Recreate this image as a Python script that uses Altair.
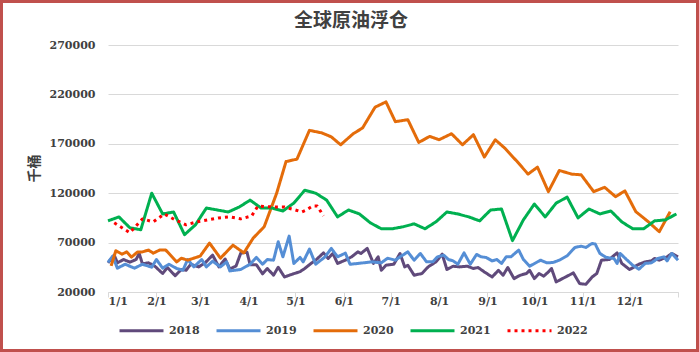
import altair as alt
import pandas as pd

chart_title = "全球原油浮仓"
series_names = ["2018", "2019", "2020", "2021", "2022"]
series_colors = ["#604A7B", "#558ED5", "#E46C0A", "#00B050", "#FF0000"]

days_2018 = [0, 4, 6, 10, 14, 18, 20, 22, 26, 30, 35, 38, 43, 47, 50, 53, 58, 62, 67, 71,
             75, 78, 82, 85, 89, 91, 95, 99, 102, 106, 109, 113, 117, 123, 126, 130, 133, 138, 141, 144,
             147, 152, 156, 160, 162, 166, 170, 173, 175, 178, 183, 187, 190, 192, 196, 201, 205, 210, 214, 217,
             221, 225, 230, 234, 237, 241, 246, 250, 253, 256, 260, 264, 268, 270, 273, 276, 279, 282, 284, 287,
             293, 298, 302, 306, 310, 313, 316, 321, 326, 329, 334, 340, 344, 348, 350, 353, 358, 361, 365]
vals_2018 = [49500, 57300, 49500, 52900, 50200, 52900, 59000, 48600, 49500, 46100,
             38700, 44800, 36500, 42800, 42000, 48100, 45400, 49200, 57300, 45400,
             53400, 43300, 46300, 59300, 60300, 47600, 47600, 38400, 43800, 37000,
             45100, 35200, 37500, 40600, 43800, 48900, 52200, 59600, 53900, 59000,
             48900, 52200, 55600, 60600, 59000, 64100, 48900, 55600, 42000, 47100,
             48100, 59000, 45400, 47100, 37000, 38700, 45400, 50500, 58300, 42800,
             46100, 45400, 46100, 43800, 44800, 40300, 35200, 42000, 37000, 44800,
             33600, 37000, 38700, 42000, 33600, 38700, 36000, 40300, 43800, 30200,
             35200, 39300, 28500, 27800, 35200, 38700, 52200, 52900, 59600, 48900,
             42800, 48100, 50500, 51500, 53900, 52200, 55600, 59000, 55600]

days_2019 = [0, 3, 6, 11, 17, 22, 28, 31, 35, 39, 44, 48, 51, 55, 60, 63, 67, 72, 76, 78,
             85, 91, 95, 99, 102, 106, 109, 112, 116, 119, 123, 125, 129, 133, 139, 143, 147, 152, 155, 160,
             169, 175, 179, 184, 187, 192, 196, 200, 204, 208, 211, 215, 218, 221, 224, 228, 232, 236, 239, 242,
             246, 249, 252, 255, 258, 263, 266, 270, 277, 281, 285, 289, 294, 299, 303, 306, 310, 312, 315, 319,
             324, 326, 328, 332, 336, 340, 344, 348, 352, 356, 358, 361, 365]
vals_2019 = [50000, 56300, 44100, 48100, 44100, 48100, 45100, 52900, 44100, 48100,
             43800, 42000, 52900, 45400, 52900, 45400, 51200, 45400, 50500, 41300,
             42800, 48100, 55000, 48100, 52900, 52200, 70800, 55600, 76600, 48900,
             55000, 50500, 63400, 48100, 55600, 64100, 55600, 59300, 48100, 48900,
             50500, 49500, 54200, 52200, 55600, 60600, 52200, 59000, 50500, 50500,
             55600, 57300, 52900, 51500, 48100, 59600, 48100, 58000, 55600, 55000,
             51500, 52900, 48900, 55600, 55600, 62400, 52900, 46100, 52200, 49500,
             49900, 52200, 56600, 65100, 66400, 65100, 69200, 68500, 59000, 55000,
             53900, 48900, 59000, 52900, 47100, 43100, 48900, 49500, 53900, 55600,
             51500, 59000, 52200]

days_2020 = [2, 5, 9, 12, 15, 19, 22, 26, 29, 33, 37, 44, 47, 51, 59, 65, 72, 80, 87, 93,
             100, 108, 114, 121, 129, 137, 143, 149, 157, 163, 171, 178, 184, 192, 199, 206, 212, 220, 227, 234,
             241, 248, 254, 262, 269, 275, 282, 289, 297, 303, 311, 318, 325, 331, 338, 346, 353, 360]
vals_2020 = [46400, 61700, 58300, 60600, 55300, 60600, 60600, 62400, 59300, 62400,
             62400, 50500, 54200, 52200, 56300, 69500, 54200, 67400, 59600, 74600,
             86000, 120000, 152000, 154500, 183600, 181000, 177000, 169000, 180200, 186000,
             207000, 212400, 192400, 194400, 171400, 177500, 174100, 180200, 169000, 179200,
             156600, 174100, 165700, 152000, 139300, 146400, 121600, 143000, 139300, 138600,
             121600, 126000, 116500, 122300, 101300, 91100, 81000, 101300]

days_2021 = [0, 7, 14, 21, 28, 35, 42, 49, 56, 63, 70, 77, 84, 91, 98, 105, 112, 119, 126, 133,
             140, 147, 154, 161, 168, 175, 182, 189, 196, 203, 210, 217, 224, 231, 238, 245, 252, 259, 266, 273,
             280, 287, 294, 301, 308, 315, 322, 329, 336, 343, 350, 357, 364]
vals_2021 = [92000, 96000, 85000, 83000, 120000, 99000, 101000, 78000, 88000, 105000,
             103000, 101000, 106000, 113000, 105000, 105000, 102000, 110000, 123000, 120000,
             113000, 96000, 103000, 99000, 90000, 84000, 84000, 86000, 89000, 84000,
             91000, 101000, 99000, 96000, 92000, 103000, 104000, 72000, 93000, 109000,
             96000, 110000, 116000, 95000, 104000, 99000, 102000, 91000, 84000, 84000,
             92000, 93000, 99000]

days_2022 = [4, 14, 22, 29, 36, 43, 50, 57, 64, 71, 78, 85, 92, 96, 106, 113, 120, 124, 127, 131, 134, 138]
vals_2022 = [90000, 80000, 94000, 91000, 99000, 93000, 88000, 91000, 93000, 95000,
             96000, 94000, 97000, 107000, 106000, 106000, 103000, 101000, 103000, 107000, 107000, 97000]

y_ticks = [20000, 70000, 120000, 170000, 220000, 270000]

base = pd.Timestamp("2021-01-01")
frames = []
for name, d, v in [("2018", days_2018, vals_2018), ("2019", days_2019, vals_2019),
                   ("2020", days_2020, vals_2020), ("2021", days_2021, vals_2021),
                   ("2022", days_2022, vals_2022)]:
    frames.append(pd.DataFrame({
        "date": base + pd.to_timedelta(d, unit="D"),
        "value": v,
        "series": name,
    }))
df = pd.concat(frames, ignore_index=True)

month_ticks = [alt.DateTime(year=2021, month=m, date=1) for m in range(1, 13)] + \
              [alt.DateTime(year=2022, month=1, date=1)]

legend_cfg = dict(
    orient="none", direction="horizontal", legendX=10, legendY=262,
    symbolType="stroke", symbolSize=1936, symbolStrokeWidth=3,
    labelFont="DejaVu Serif", labelFontWeight="bold", labelFontSize=11,
    labelColor="#404040", labelOffset=4, columnPadding=10, padding=0, title=None,
)

lines = alt.Chart(df).mark_line(strokeWidth=3, strokeJoin="round").encode(
    x=alt.X("date:T",
            scale=alt.Scale(domain=[alt.DateTime(year=2021, month=1, date=1),
                                    alt.DateTime(year=2022, month=1, date=1)], nice=False),
            axis=alt.Axis(values=month_ticks,
                          labelExpr="year(datum.value) > 2021 ? '' : timeFormat(datum.value, '%-m/%-d')",
                          grid=False, domainColor="#D9D9D9", tickColor="#D9D9D9", tickSize=5,
                          labelFont="DejaVu Serif", labelFontWeight="bold", labelFontSize=11,
                          labelColor="#404040", labelPadding=-2, labelOverlap=False, title=None)),
    y=alt.Y("value:Q",
            scale=alt.Scale(domain=[20000, 270000], nice=False, zero=False),
            axis=alt.Axis(values=y_ticks, format="d", grid=True, gridColor="#D9D9D9",
                          ticks=False, domain=False, labelPadding=13,
                          labelFont="DejaVu Serif", labelFontWeight="bold", labelFontSize=11,
                          labelColor="#404040",
                          title="千桶", titleFont="Noto Sans CJK SC", titleFontSize=14,
                          titleFontWeight="bold", titleColor="#404040",
                          titleX=-74, titleY=123, titleAngle=270,
                          titleAlign="center", titleBaseline="middle")),
    color=alt.Color("series:N", scale=alt.Scale(domain=series_names, range=series_colors),
                    legend=alt.Legend(**legend_cfg)),
    strokeDash=alt.StrokeDash("series:N",
                              scale=alt.Scale(domain=series_names,
                                              range=[[1, 0], [1, 0], [1, 0], [1, 0], [3, 4]]),
                              legend=alt.Legend(**legend_cfg)),
)

title_text = alt.Chart(pd.DataFrame({"t": [chart_title]})).mark_text(
    font="Noto Sans CJK SC", fontSize=19, fontWeight="bold", color="#404040",
    align="center", baseline="middle"
).encode(text="t:N", x=alt.value(243), y=alt.value(-24))

border = alt.Chart(pd.DataFrame({"k": [0]})).mark_rect(
    fillOpacity=0, stroke="#C0504D", strokeWidth=3
).encode(
    x=alt.value(-106.5), x2=alt.value(589.5), y=alt.value(-43.5), y2=alt.value(305.5)
)

chart = alt.layer(lines, title_text, border).properties(
    width=570, height=247,
    padding={"left": 108, "top": 45, "right": 21, "bottom": 60},
    autosize=alt.AutoSizeParams(type="none"),
).configure_view(strokeWidth=0)

chart.save("out.html", embed_options={"renderer": "svg", "actions": False})
